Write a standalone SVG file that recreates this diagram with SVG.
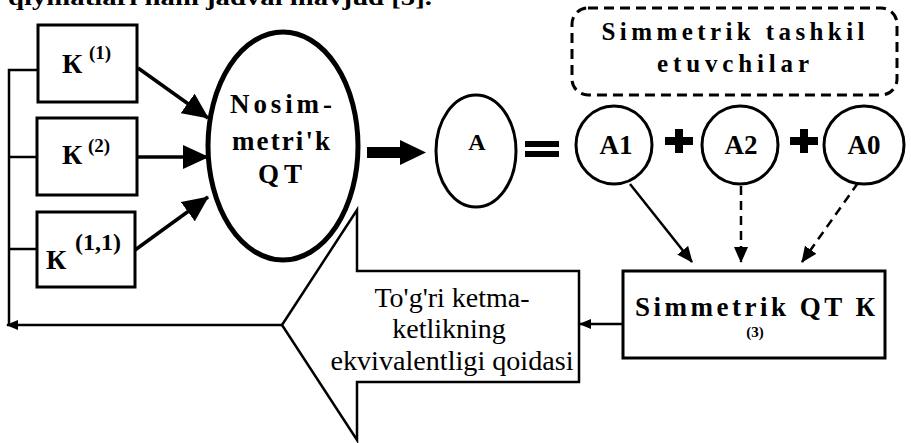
<svg xmlns="http://www.w3.org/2000/svg" width="911" height="443" viewBox="0 0 911 443">
<style>
.b{fill:#fff;stroke:#000;stroke-width:3}
.t{font-family:"Liberation Serif","DejaVu Serif",serif;font-weight:bold;fill:#000}
.r{font-family:"Liberation Serif","DejaVu Serif",serif;font-weight:normal;fill:#000}
.ln{fill:none;stroke:#000;stroke-width:2.5}
.dl{fill:none;stroke:#000;stroke-width:2.5;stroke-dasharray:9 6}
</style>
<defs>
<marker id="big" markerUnits="userSpaceOnUse" markerWidth="26" markerHeight="24" viewBox="0 0 26 24" refX="25" refY="12" orient="auto"><path d="M0,0 L26,12 L0,24 Z" fill="#000"/></marker>
<marker id="mid" markerUnits="userSpaceOnUse" markerWidth="16" markerHeight="14" viewBox="0 0 16 14" refX="15" refY="7" orient="auto"><path d="M0,0 L16,7 L0,14 Z" fill="#000"/></marker>
<marker id="sm" markerUnits="userSpaceOnUse" markerWidth="12" markerHeight="10" viewBox="0 0 12 10" refX="11" refY="5" orient="auto"><path d="M0,0 L12,5 L0,10 Z" fill="#000"/></marker>
</defs>
<rect width="911" height="443" fill="#fff"/>
<text class="t" x="8" y="5" font-size="24" textLength="424" lengthAdjust="spacingAndGlyphs">qiymatlari ham jadval mavjud [5].</text>

<g id="connectors">
<polyline class="ln" points="38,70 9,70 9,325"/>
<line class="ln" x1="9" y1="157" x2="37" y2="157"/>
<line class="ln" x1="9" y1="249" x2="37" y2="249"/>
<line class="ln" x1="282" y1="325" x2="7" y2="325" marker-end="url(#sm)"/>
<line x1="138" y1="68" x2="208" y2="118" stroke="#000" stroke-width="3.5" marker-end="url(#big)"/>
<line x1="137" y1="157" x2="208" y2="157" stroke="#000" stroke-width="3.5" marker-end="url(#big)"/>
<line x1="135" y1="250" x2="208" y2="197" stroke="#000" stroke-width="3.5" marker-end="url(#big)"/>
<path d="M367,147 H400 V140 L426,152.5 L400,165 V158 H367 Z" fill="#000"/>
<line class="ln" x1="630" y1="184" x2="692" y2="262" marker-end="url(#mid)"/>
<line class="dl" x1="741" y1="186" x2="741" y2="262" marker-end="url(#mid)"/>
<line class="dl" x1="858" y1="183" x2="802" y2="262" marker-end="url(#mid)"/>
<line class="ln" x1="623" y1="324" x2="580" y2="324" marker-end="url(#sm)"/>
</g>

<g id="k1">
<rect class="b" x="38" y="25" width="99" height="77"/>
<text class="t" x="62" y="73" font-size="28">К</text>
<text class="t" x="89" y="59" font-size="19">(1)</text>
</g>
<g id="k2">
<rect class="b" x="37" y="118" width="100" height="77"/>
<text class="t" x="62" y="164" font-size="28">К</text>
<text class="t" x="88" y="152" font-size="19">(2)</text>
</g>
<g id="k11">
<rect class="b" x="37" y="212" width="98" height="75"/>
<text class="t" x="46" y="269" font-size="28">К</text>
<text class="t" x="75" y="250" font-size="24">(1,1)</text>
</g>

<g id="nosim">
<ellipse cx="283" cy="146" rx="75" ry="114" fill="#fff" stroke="#000" stroke-width="5"/>
<text class="t" x="281" y="113" font-size="27" text-anchor="middle" textLength="102" lengthAdjust="spacing">Nosim-</text>
<text class="t" x="281" y="150" font-size="27" text-anchor="middle" textLength="98" lengthAdjust="spacing">metri'k</text>
<text class="t" x="280" y="183" font-size="27" text-anchor="middle" textLength="44" lengthAdjust="spacing">QT</text>
</g>

<g id="a">
<ellipse cx="476" cy="151" rx="40" ry="56" fill="#fff" stroke="#000" stroke-width="3"/>
<text class="t" x="477" y="150" font-size="24" text-anchor="middle">A</text>
</g>

<g id="equals">
<rect x="525" y="141" width="34" height="6" fill="#000"/>
<rect x="525" y="151" width="34" height="6" fill="#000"/>
</g>

<g id="a1">
<ellipse cx="614" cy="145" rx="38" ry="39" fill="#fff" stroke="#000" stroke-width="3"/>
<text class="t" x="616" y="154" font-size="27" text-anchor="middle">A1</text>
</g>
<g id="plus1">
<rect x="665" y="137" width="28" height="8" fill="#000"/>
<rect x="675" y="129" width="8" height="24" fill="#000"/>
</g>
<g id="a2">
<ellipse cx="740" cy="145" rx="38" ry="39" fill="#fff" stroke="#000" stroke-width="3"/>
<text class="t" x="741" y="154" font-size="27" text-anchor="middle">A2</text>
</g>
<g id="plus2">
<rect x="790" y="137" width="28" height="8" fill="#000"/>
<rect x="800" y="129" width="8" height="24" fill="#000"/>
</g>
<g id="a0">
<ellipse cx="864" cy="145" rx="40" ry="39" fill="#fff" stroke="#000" stroke-width="3"/>
<text class="t" x="864" y="154" font-size="27" text-anchor="middle">A0</text>
</g>

<g id="symmetric-components">
<rect x="572" y="8" width="325" height="87" rx="16" fill="none" stroke="#000" stroke-width="3" stroke-dasharray="10 6"/>
<text class="t" x="733" y="40" font-size="25" text-anchor="middle" textLength="263" lengthAdjust="spacing">Simmetrik tashkil</text>
<text class="t" x="733" y="72" font-size="25" text-anchor="middle" textLength="152" lengthAdjust="spacing">etuvchilar</text>
</g>

<g id="sym-qt">
<rect class="b" x="623" y="271" width="262" height="87"/>
<text class="t" x="755" y="316" font-size="27" text-anchor="middle" textLength="240" lengthAdjust="spacing">Simmetrik QT К</text>
<text class="t" x="755" y="337" font-size="15" text-anchor="middle">(3)</text>
</g>

<g id="rule-arrow">
<polygon points="282,325 357,210 357,271 579,271 579,382 357,382 357,440" fill="#fff" stroke="#000" stroke-width="2.5"/>
<text class="r" x="452" y="307" font-size="28" text-anchor="middle">To'g'ri ketma-</text>
<text class="r" x="449" y="338" font-size="28" text-anchor="middle">ketlikning</text>
<text class="r" x="452" y="370" font-size="28" text-anchor="middle" textLength="243" lengthAdjust="spacingAndGlyphs">ekvivalentligi qoidasi</text>
</g>
</svg>
